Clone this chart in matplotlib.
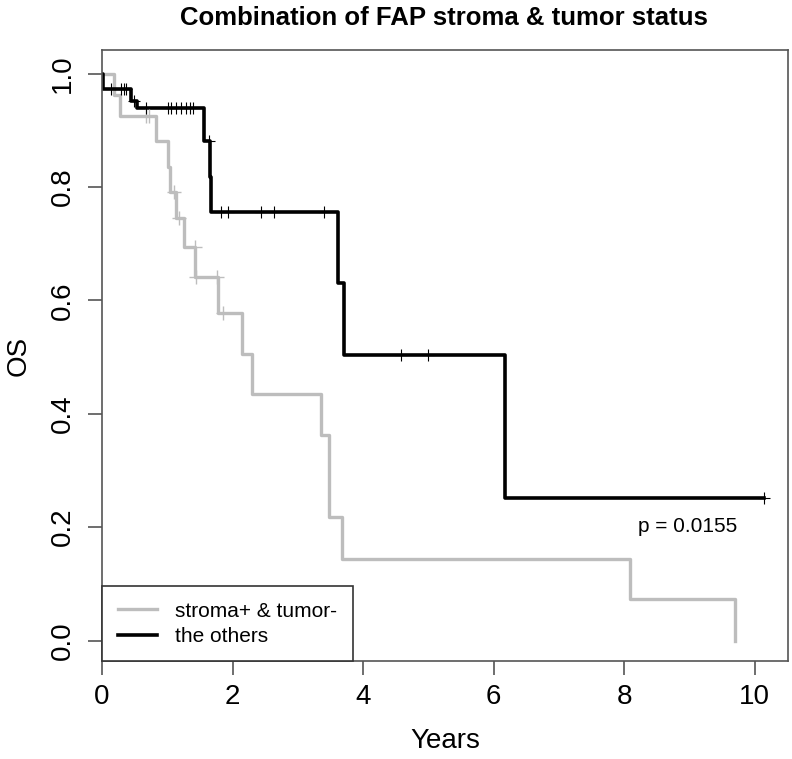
import matplotlib.pyplot as plt
import numpy as np

plt.rcParams['font.family'] = ['Liberation Sans', 'DejaVu Sans']

# stroma+ & tumor- (grey curve): event times (years) and survival after each step
grey_times = [0, 0.19, 0.27, 0.82, 1.01, 1.04, 1.13, 1.26, 1.43, 1.77, 2.15, 2.30,
              3.35, 3.47, 3.67, 8.09, 9.69]
grey_surv = [1.0, 0.963, 0.926, 0.881, 0.835, 0.792, 0.745, 0.695, 0.642, 0.578,
             0.505, 0.435, 0.362, 0.218, 0.144, 0.0725, 0.0]
grey_cens = [0.67, 0.72, 1.10, 1.18, 1.42, 1.44, 1.76, 1.85]

# the others (black curve)
black_times = [0, 0.02, 0.44, 0.53, 1.57, 1.65, 1.67, 3.62, 3.70, 6.18, 10.14]
black_surv = [1.0, 0.973, 0.952, 0.940, 0.882, 0.818, 0.757, 0.631, 0.503, 0.2515, 0.2515]
black_cens = [0.14, 0.29, 0.33, 0.37, 0.49, 0.67, 1.01, 1.06, 1.13, 1.21, 1.28, 1.35,
              1.40, 1.64, 1.83, 1.93, 2.43, 2.64, 3.40, 4.58, 4.99, 10.14]

labels = ['stroma+ & tumor-', 'the others']
p_text = 'p = 0.0155'


def level_at(times, surv, t):
    # survival level of the step curve at the censoring times
    idx = np.searchsorted(times, t, side='right') - 1
    return np.array(surv)[idx]


grey_col = '#bdbdbd'
fig = plt.figure(figsize=(7.92, 7.59), dpi=100)
ax = fig.add_axes([0.1288, 0.1285, 0.8662, 0.8056])

ax.step(grey_times, grey_surv, where='post', color=grey_col, lw=2.4, label=labels[0])
ax.step(black_times, black_surv, where='post', color='black', lw=2.6, label=labels[1])
ax.plot(grey_cens, level_at(grey_times, grey_surv, grey_cens), '+', color=grey_col,
        ms=10, mew=1.0)
ax.plot(black_cens, level_at(black_times, black_surv, black_cens), '+', color='black',
        ms=9, mew=0.8)

ax.set_xlim(0, 10.51)
ax.set_ylim(-0.037, 1.042)
ax.set_xticks([0, 2, 4, 6, 8, 10])
ax.set_yticks([0.0, 0.2, 0.4, 0.6, 0.8, 1.0])
ax.set_yticklabels(['0.0', '0.2', '0.4', '0.6', '0.8', '1.0'])

for sp in ax.spines.values():
    sp.set_color('#555555')
    sp.set_linewidth(1.2)
ax.tick_params(axis='both', length=10, width=1.2, color='#555555', labelsize=20)
ax.tick_params(axis='x', pad=6)
ax.tick_params(axis='y', pad=9, labelrotation=90)
for lab in ax.get_yticklabels():
    lab.set_va('center')

ax.set_xlabel('Years', fontsize=20, labelpad=13)
ax.set_ylabel('OS', fontsize=20, labelpad=13)

ax.text(8.21, 0.201, p_text, fontsize=15, ha='left', va='center')

leg = ax.legend(loc='lower left', bbox_to_anchor=(0, 0), borderaxespad=0,
                fancybox=False, edgecolor='#333333', framealpha=1, fontsize=15,
                handlelength=1.9, handletextpad=0.85, borderpad=0.75,
                labelspacing=0.3)
leg.get_frame().set_linewidth(1.2)

fig.text(0.56, 1 - 18 / 759, 'Combination of FAP stroma & tumor status',
         ha='center', va='center', fontsize=18.5, fontweight='bold')

fig.savefig('out.png', dpi=100)
